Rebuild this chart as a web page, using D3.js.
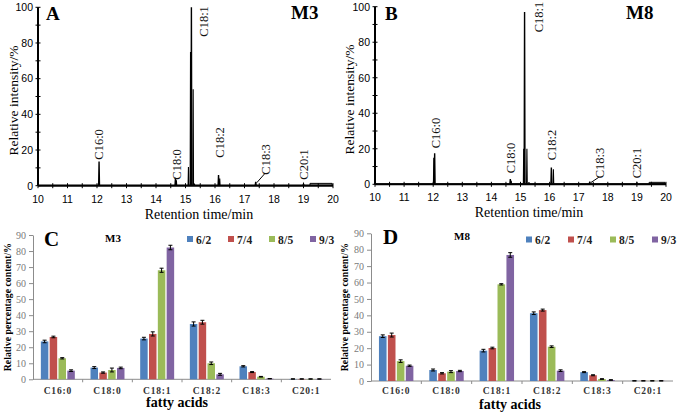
<!DOCTYPE html>
<html><head><meta charset="utf-8">
<script src="https://cdn.jsdelivr.net/npm/d3@7"></script>
<style>body{margin:0;background:#fff}svg{display:block}</style>
</head><body><svg id="c" width="677" height="413"></svg>
<script>
// ---------- chromatogram data ----------
const peakLabels = ["C16:0","C18:0","C18:1","C18:2","C18:3","C20:1"];
const peakTimesM3 = [12.07, 14.66, 15.20, 16.12, 17.38, 19.0];
const peakHeightsM3 = [13.5, 4.5, 100, 6.0, 2.2, 1.0];
const peakTimesM8 = [12.05, 14.65, 15.14, 16.06, 17.38, 19.0];
const peakHeightsM8 = [17.5, 3.0, 97, 9.5, 1.5, 0.8];
// secondary / shoulder lines
const extraTimesM3 = [15.10, 15.17, 15.18, 15.26, 15.30, 16.16, 14.69];
const extraHeightsM3 = [10.5, 75, 54, 54, 1.2, 4.0, 3.0];
const extraTimesM8 = [12.02, 15.11, 15.22, 15.29, 16.13, 14.68];
const extraHeightsM8 = [15, 20, 20, 1.3, 8.5, 2.0];
// baseline trace (incl. end-of-run box)
const baseTimesM3 = [10, 19.22, 19.22, 19.97, 19.97, 19.22, 19.97, 20];
const baseLevelsM3 = [0.3, 0.3, 1.3, 1.3, 0.3, 0.3, 0.3, 0.3];
const baseTimesM8 = [10, 19.42, 19.42, 19.97, 19.97, 19.42, 19.97, 20];
const baseLevelsM8 = [0.3, 0.3, 1.1, 1.1, 0.3, 0.3, 0.3, 0.3];
const timeTicks = [10,11,12,13,14,15,16,17,18,19,20];
const intensityTicks = [0,20,40,60,80,100];

// ---------- bar chart data ----------
const categories = ["C16:0","C18:0","C18:1","C18:2","C18:3","C20:1"];
const seriesNames = ["6/2","7/4","8/5","9/3"];
const m3_62 = [23.6, 7.3, 25.4, 34.5, 8.1, 0.2];
const m3_74 = [26.4, 4.2, 28.3, 35.6, 4.5, 0.2];
const m3_85 = [13.1, 5.8, 68.0, 10.0, 1.6, 0.2];
const m3_93 = [5.4, 7.1, 82.2, 3.1, 0.4, 0.2];
const m3_err62 = [0.8, 0.6, 0.8, 1.3, 0.4, 0.1];
const m3_err74 = [0.5, 0.4, 1.3, 1.2, 0.3, 0.1];
const m3_err85 = [0.4, 1.2, 1.3, 0.8, 0.2, 0.1];
const m3_err93 = [0.5, 0.5, 1.4, 0.6, 0.1, 0.1];
const m8_62 = [27.3, 6.7, 18.5, 41.3, 5.4, 0.1];
const m8_74 = [28.0, 4.7, 20.1, 43.2, 3.5, 0.1];
const m8_85 = [12.1, 5.7, 58.9, 20.9, 1.2, 0.1];
const m8_93 = [9.3, 6.1, 76.8, 6.3, 0.6, 0.1];
const m8_err62 = [0.8, 0.6, 0.8, 0.8, 0.3, 0.1];
const m8_err74 = [1.2, 0.4, 0.5, 0.6, 0.3, 0.1];
const m8_err85 = [0.8, 0.6, 0.4, 0.5, 0.2, 0.1];
const m8_err93 = [0.4, 0.4, 1.4, 0.5, 0.2, 0.1];
const pctTicks = [0,10,20,30,40,50,60,70,80,90];
const colors = ["#4F81BD","#C0504D","#9BBB59","#8064A2"];

const svg = d3.select("#c");
const SERIF = "'Liberation Serif','Times New Roman',serif";
const SANS = "'Liberation Sans',Arial,sans-serif";

function chrom(o) {
  const g = svg.append("g");
  const x = d3.scaleLinear().domain([10,20]).range(o.xr);
  const y = d3.scaleLinear().domain([0,100]).range(o.yr);
  const line = d3.line().x(d => x(d[0])).y(d => y(d[1]));
  g.append("path").attr("d", line(o.bt.map((t,i)=>[t,o.bl[i]])))
    .attr("fill","none").attr("stroke","#000").attr("stroke-width",1);
  const spike = (t,h,w) => line([[t-w,0.3],[t,h],[t+w,0.3]]);
  o.et.forEach((t,i)=> g.append("path").attr("d", spike(t,o.eh[i],0.012))
    .attr("fill","none").attr("stroke","#000").attr("stroke-width",1.1));
  o.pt.forEach((t,i)=> g.append("path").attr("d", spike(t,o.ph[i],0.014))
    .attr("fill","none").attr("stroke","#000").attr("stroke-width",1.4));
  const y0 = y(0), x0 = x(10);
  g.append("line").attr("x1",x0).attr("x2",x(20)).attr("y1",y0).attr("y2",y0)
    .attr("stroke","#000").attr("stroke-width",2);
  g.append("line").attr("x1",x0).attr("x2",x0).attr("y1",y(0)).attr("y2",y(100))
    .attr("stroke","#000").attr("stroke-width",2);
  d3.range(10,20.01,0.5).forEach(t => g.append("line").attr("x1",x(t)).attr("x2",x(t))
    .attr("y1",y0-2.5).attr("y2",y0+2.5).attr("stroke","#000").attr("stroke-width",1));
  d3.range(0,100.1,10).forEach(v => g.append("line").attr("x1",x0-2.5).attr("x2",x0+2.5)
    .attr("y1",y(v)).attr("y2",y(v)).attr("stroke","#000").attr("stroke-width",1));
  timeTicks.forEach(t => g.append("text").attr("x",x(t)).attr("y",y0+17)
    .attr("text-anchor","middle").attr("font-family",SANS).attr("font-size",10.5).text(t));
  intensityTicks.forEach(v => g.append("text").attr("x",x0-5).attr("y",y(v)+3.8)
    .attr("text-anchor","end").attr("font-family",SANS).attr("font-size",10.5).text(v));
  g.append("text").attr("transform",`translate(${o.ytx},${(y(0)+y(100))/2+4}) rotate(-90)`)
    .attr("text-anchor","middle").attr("font-family",SERIF).attr("font-size",13.5)
    .attr("dy","0.35em").text("Relative intensity/%");
  g.append("text").attr("x",o.xtx).attr("y",y0+33).attr("text-anchor","middle")
    .attr("font-family",SERIF).attr("font-size",14).text("Retention time/min");
  peakLabels.forEach((lab,i) => {
    const px = x(o.pt[i]) + o.ldx[i], by = y0 - o.ldy[i];
    g.append("text").attr("transform",`translate(${px},${by}) rotate(-90)`)
      .attr("dy","0.35em").attr("font-family",SERIF).attr("font-size",12.5)
      .attr("fill","#111").text(lab);
    if (lab === "C18:3") {
      g.append("line").attr("x1",x(o.pt[i])+1).attr("y1",y(o.ph[i])+1)
        .attr("x2",px-1).attr("y2",by-1).attr("stroke","#000").attr("stroke-width",1);
    }
  });
  g.append("text").attr("x",o.lx).attr("y",20).attr("font-family",SERIF)
    .attr("font-weight","bold").attr("font-size",19).text(o.letter);
  g.append("text").attr("x",o.mx).attr("y",19).attr("font-family",SERIF)
    .attr("font-weight","bold").attr("font-size",19).text(o.name);
}

chrom({xr:[38,333], yr:[185.7,7.3], pt:peakTimesM3, ph:peakHeightsM3, et:extraTimesM3, eh:extraHeightsM3,
  bt:baseTimesM3, bl:baseLevelsM3, ytx:13, xtx:199, letter:"A", lx:46, name:"M3", mx:291,
  ldx:[0,1,12.5,1,10,0], ldy:[26,6,149,28,11,6]});
chrom({xr:[375,666], yr:[184.3,6.7], pt:peakTimesM8, ph:peakHeightsM8, et:extraTimesM8, eh:extraHeightsM8,
  bt:baseTimesM8, bl:baseLevelsM8, ytx:349, xtx:529, letter:"B", lx:385, name:"M8", mx:626,
  ldx:[1,0,14,0,10,0], ldy:[36,11,152,24,6,6]});

function bars(o) {
  const g = svg.append("g");
  const vals = o.vals, errs = o.errs;
  const x0 = d3.scaleBand().domain(categories).range(o.xr).paddingInner(0.316).paddingOuter(0.158);
  const x1 = d3.scaleBand().domain(seriesNames).range([0, x0.bandwidth()]).paddingInner(0.15);
  const y = d3.scaleLinear().domain([0,90]).range(o.yr);
  const yAx = g.append("g").attr("transform",`translate(${o.xr[0]},0)`)
    .call(d3.axisLeft(y).tickValues(pctTicks).tickSizeInner(4).tickSizeOuter(0).tickPadding(3));
  yAx.select(".domain").attr("stroke","#8c8c8c");
  yAx.selectAll(".tick line").attr("stroke","#8c8c8c");
  yAx.selectAll("text").attr("font-family",SERIF).attr("font-size",10).attr("fill","#7a7a7a");
  g.append("line").attr("x1",o.xr[0]).attr("x2",o.xr[1]).attr("y1",y(0)).attr("y2",y(0))
    .attr("stroke","#8c8c8c").attr("stroke-width",1);
  categories.forEach((c,i) => {
    if (i>0) g.append("line").attr("x1",x0(c)-x0.step()*0.158).attr("x2",x0(c)-x0.step()*0.158)
      .attr("y1",y(0)).attr("y2",y(0)+3).attr("stroke","#8c8c8c");
    g.append("text").attr("x",x0(c)+x0.bandwidth()/2).attr("y",y(0)+o.tkOff).attr("text-anchor","middle")
      .attr("font-family",SERIF).attr("font-weight","bold").attr("font-size",9.5)
      .attr("letter-spacing",0.8).attr("fill","#333").text(c);
  });
  seriesNames.forEach((s,si) => {
    categories.forEach((c,ci) => {
      const v = vals[si][ci], e = errs[si][ci];
      const bx = x0(c)+x1(s), bw = x1.bandwidth();
      g.append("rect").attr("x",bx).attr("y",y(v)).attr("width",bw).attr("height",y(0)-y(v))
        .attr("fill",colors[si]);
      const cx = bx+bw/2;
      const lo = y(Math.max(0,v-e)), hi = y(v+e);
      g.append("line").attr("x1",cx).attr("x2",cx).attr("y1",hi).attr("y2",lo)
        .attr("stroke","#000").attr("stroke-width",1);
      [hi,lo].forEach(yy => g.append("line").attr("x1",cx-2).attr("x2",cx+2).attr("y1",yy).attr("y2",yy)
        .attr("stroke","#000").attr("stroke-width",1));
    });
  });
  seriesNames.forEach((s,si) => {
    const lx = o.legX + si*o.legStep;
    g.append("rect").attr("x",lx).attr("y",o.legY-3).attr("width",6).attr("height",6).attr("fill",colors[si]);
    g.append("text").attr("x",lx+9).attr("y",o.legY+4.5).attr("font-family",SERIF)
      .attr("font-weight","bold").attr("font-size",11.5).attr("letter-spacing",0.3)
      .attr("fill","#222").text(s);
  });
  g.append("text").attr("x",o.lx).attr("y",o.yr[1]+11).attr("font-family",SERIF)
    .attr("font-weight","bold").attr("font-size",21).text(o.letter);
  g.append("text").attr("x",o.mx).attr("y",o.yr[1]+7).attr("font-family",SERIF)
    .attr("font-weight","bold").attr("font-size",11).text(o.name);
  g.append("text").attr("transform",`translate(${o.ytx},${(y(0)+y(90))/2}) rotate(-90)`)
    .attr("text-anchor","middle").attr("dy","0.35em").attr("font-family",SERIF)
    .attr("font-weight","bold").attr("font-size",9.8).text("Relative percentage content/%");
  g.append("text").attr("x",o.ftx).attr("y",o.faY).attr("text-anchor","middle").attr("font-family",SERIF)
    .attr("font-weight","bold").attr("font-size",14).text("fatty acids");
}

bars({xr:[33,331], yr:[379.3,235], vals:[m3_62,m3_74,m3_85,m3_93], errs:[m3_err62,m3_err74,m3_err85,m3_err93],
  legX:187, legStep:41, legY:239, letter:"C", lx:44, name:"M3", mx:105, ytx:7.5, ftx:177, tkOff:14.5, faY:407});
bars({xr:[371,673], yr:[381,233.3], vals:[m8_62,m8_74,m8_85,m8_93], errs:[m8_err62,m8_err74,m8_err85,m8_err93],
  legX:526, legStep:42, legY:239.5, letter:"D", lx:383, name:"M8", mx:454, ytx:345, ftx:510, tkOff:13, faY:408.5});
</script></body></html>
